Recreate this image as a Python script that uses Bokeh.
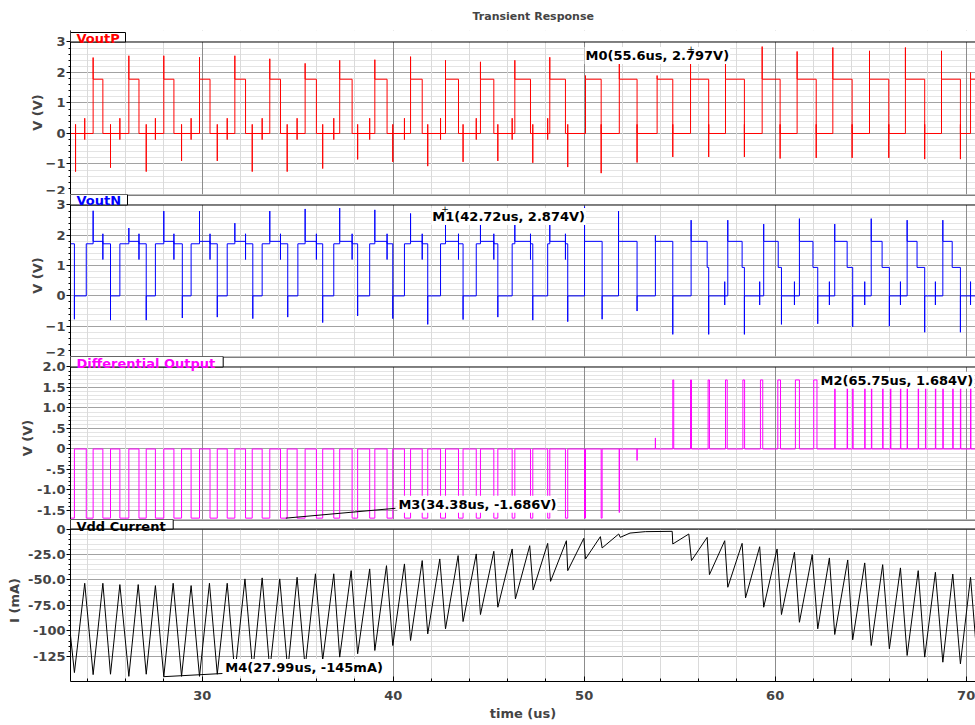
import numpy as np
from bokeh.plotting import figure
from bokeh.layouts import column
from bokeh.models import Range1d, FixedTicker, Grid, Label, BoxAnnotation, Span
from bokeh.embed import file_html
from bokeh.resources import INLINE

# ---------------- data ----------------
X0, X1 = 23.105, 70.49
x_major = [30, 40, 50, 60, 70]
x_minor = [24, 26, 28, 32, 34, 36, 38, 42, 44, 46, 48, 52, 54, 56, 58, 62, 64, 66, 68]

# VoutP: rising / falling edge times, spike peaks
p_rise = [24.29, 26.16, 27.99, 29.86, 31.71, 33.54, 35.39, 37.20, 39.04, 40.91, 42.74, 44.57, 46.37,
          48.20, 50.07, 51.84, 53.82, 55.57, 57.40, 59.32, 61.15, 63.02, 64.94, 66.82, 68.71, 70.23]
p_fall = [24.80, 26.69, 28.52, 30.41, 32.27, 34.10, 35.98, 37.85, 39.68, 41.52, 43.42, 45.27, 47.19,
          49.02, 50.89, 52.77, 54.64, 56.52, 58.39, 60.26, 62.15, 64.03, 65.95, 67.83, 69.70]
p_spk = [2.49, 2.55, 2.55, 2.50, 2.55, 2.45, 2.30, 2.40, 2.42, 2.52, 2.40, 2.35, 2.40,
         2.50, 1.90, 2.42, 1.90, 2.797, 2.36, 2.85, 2.69, 2.82, 2.71, 2.82, 2.71, 2.00]
p_neg_t = [23.37, 25.20, 27.07, 28.92, 30.79, 32.62, 34.45, 36.31, 38.14, 39.98, 41.81, 43.66, 45.48,
           47.31, 49.14, 50.89, 52.77, 54.64, 56.52, 58.39, 60.26, 62.15, 64.03, 65.95, 67.83, 69.70]
p_neg_v = [-1.25, -1.12, -1.25, -0.90, -0.90, -1.25, -1.25, -1.15, -0.85, -0.93, -1.07, -0.93, -0.90,
           -0.96, -1.10, -1.30, -0.95, -0.77, -0.77, -0.77, -0.82, -0.80, -0.80, -0.80, -0.84, -0.84]
p_pre_t = [23.85, 25.69, 27.55, 29.42, 31.31, 33.14, 34.97, 36.89, 38.77, 40.59, 42.48, 44.35, 46.23, 48.09]
P_HI = 1.78
P_NEG_UP = 0.30
P_PRE = [0.50, -0.20]

# VoutN: low intervals, spikes
n_lo_start = [23.31, 25.20, 27.07, 28.96, 30.79, 32.65, 34.48, 36.31, 38.14, 39.98, 41.81, 43.66, 45.48,
              47.31, 49.14, 50.94, 52.77, 54.64, 56.52, 58.39, 60.33, 62.23, 64.06, 65.98, 67.83, 69.70]
n_lo_end = [23.93, 25.69, 27.55, 29.42, 31.31, 33.14, 35.01, 36.89, 38.77, 40.59, 42.48, 44.35, 46.23,
            48.09, 50.02, 51.80, 53.73, 55.60, 57.52, 59.40, 61.27, 63.12, 65.03, 66.91, 68.78]
n_neg = [-0.77, -0.80, -0.80, -0.73, -0.70, -0.75, -0.70, -0.88, -0.66, -0.75, -0.94, -0.78, -0.70,
         -0.80, -0.85, -0.77, -0.50, -1.27, -1.27, -1.27, -0.94, -0.92, -1.02, -1.00, -1.20, -1.20]
n_spk_t = [24.29, 26.16, 27.99, 29.86, 31.71, 33.54, 35.39, 37.20, 39.04, 40.91, 42.74, 44.57, 46.37,
           48.20, 50.02, 51.80, 53.73, 55.60, 57.52, 59.40, 61.27, 63.12, 65.03, 66.91, 68.78]
n_spk_v = [2.81, 2.24, 2.80, 2.80, 2.40, 2.80, 2.87, 2.90, 2.84, 2.72, 2.874, 2.40, 2.40,
           2.72, 2.95, 2.80, 2.00, 2.50, 2.50, 2.37, 2.55, 2.37, 2.55, 2.50, 2.50]
n_step_t = [56.44, 58.27, 60.16, 61.98, 63.77, 65.60, 67.43, 69.27]
n_small_t = [57.36, 59.19, 61.01, 62.84, 64.69, 66.56, 68.39, 70.23]
N_HI, N_PL, N_STEP = 1.72, 1.80, 0.94
N_MID = [2.05, 1.20]
N_SMALL = [0.47, -0.30]
T_FLIP = 49.6

# Differential output pulses
d_neg_t0 = [23.93, 24.80, 25.69, 26.69, 27.55, 28.52, 29.42, 30.41, 31.31, 32.27, 33.14, 34.10, 34.97,
            35.98, 36.89, 37.85, 38.77, 39.68, 40.59, 41.52, 42.48, 43.42, 44.35, 45.27, 46.23, 47.19,
            48.09, 49.02, 50.02, 50.89]
d_neg_t1 = [23.31, 24.29, 25.20, 26.16, 27.07, 27.99, 28.92, 29.86, 30.79, 31.71, 32.62, 33.54, 34.45,
            35.39, 36.31, 37.20, 38.14, 39.04, 39.98, 40.91, 41.81, 42.74, 43.66, 44.57, 45.48, 46.37,
            47.31, 48.20, 49.14, 50.07, 50.94]
d_pos_t0 = [54.64, 55.57, 56.49, 57.40, 58.31, 59.23, 60.14, 61.06, 62.02, 63.12, 63.77, 64.06, 64.69,
            65.04, 65.63, 66.04, 66.56, 66.91, 67.49, 67.87, 68.39, 68.78, 69.30, 69.70, 70.23]
d_pos_t1 = [54.69, 55.62, 56.56, 57.49, 58.40, 59.35, 60.28, 61.27, 62.19, 63.14, 63.79, 64.08, 64.71,
            65.06, 65.65, 66.06, 66.58, 66.93, 67.51, 67.89, 68.41, 68.80, 69.32, 69.72, 70.25]
d_spk_t = [51.84, 52.77, 53.73]
d_spk_v = [-1.55, -0.28, 0.27]
D_NEG, D_POS = -1.686, 1.684

# Vdd current (mA) vertices
i_t = [23.105, 23.31, 23.85, 24.29, 24.80, 25.20, 25.69, 26.16, 26.65, 27.07, 27.55, 27.99, 28.48, 28.92,
       29.42, 29.86, 30.38, 30.79, 31.31, 31.71, 32.24, 32.65, 33.14, 33.54, 34.06, 34.48, 34.97, 35.39,
       35.93, 36.31, 36.89, 37.20, 37.80, 38.14, 38.77, 39.04, 39.65, 39.98, 40.59, 40.91, 41.52, 41.81,
       42.44, 42.74, 43.40, 43.66, 44.35, 44.57, 45.27, 45.48, 46.23, 46.40, 47.15, 47.33, 48.09, 48.24,
       49.07, 49.14, 49.98, 50.07, 50.85, 50.94, 51.81, 51.89, 52.40, 53.20, 54.61, 54.64, 55.48, 55.62,
       56.44, 56.56, 57.36, 57.52, 58.27, 58.45, 59.19, 59.40, 60.10, 60.33, 61.01, 61.27, 61.94, 62.23,
       62.84, 63.12, 63.80, 64.06, 64.69, 65.03, 65.63, 65.98, 66.56, 66.91, 67.49, 67.83, 68.39, 68.78,
       69.30, 69.70, 70.23, 70.49]
i_v = [-104.6, -141, -53.3, -143, -53.3, -142.6, -54.6, -144.7, -54.6, -142.6, -55.6, -145, -53.3, -144.7,
       -55.6, -144.7, -53.3, -142.6, -53.3, -142.6, -49, -139.5, -48, -138.8, -49, -138.8, -47.4, -136,
       -44, -128.7, -44, -125.8, -40.9, -122.5, -39.2, -119.3, -36, -114.4, -34.3, -109.5, -31, -103,
       -29.4, -98, -26.1, -90.9, -24.5, -84, -21.9, -76.8, -19.6, -68.6, -16.4, -59.8, -14.1, -51.4,
       -11.5, -40.9, -9.2, -29.4, -7.5, -18.6, -4.9, -8.2, -4.0, -2.6, -2.3, -14.7, -4.9, -31,
       -8.2, -44.8, -11.5, -57.2, -14.1, -67.6, -17.4, -76.8, -19.6, -84, -22.9, -91.6, -25.2, -98,
       -28.4, -103.6, -30.4, -108.8, -33.3, -114.4, -35, -117.6, -38.2, -124.2, -40.9, -125.8, -42.5, -130.8,
       -44.2, -132.4, -47.4, -107.8]

# markers: (panel, t, value, label)
markers = [
    (0, 55.6, 2.797, "M0(55.6us, 2.797V)"),
    (1, 42.72, 2.874, "M1(42.72us, 2.874V)"),
    (2, 65.75, 1.684, "M2(65.75us, 1.684V)"),
    (2, 34.38, -1.686, "M3(34.38us, -1.686V)"),
    (3, 27.99, -145.0, "M4(27.99us, -145mA)"),
]

# ---------------- helpers ----------------
def trace(level0, edges, spikes):
    ev = [(t, 0, v) for t, v in edges] + [(t, 1, v) for t, v in spikes]
    ev.sort(key=lambda e: (e[0], e[1]))
    xs, ys = [X0], [level0]
    lvl = level0
    for t, kind, v in ev:
        if t <= X0 or t >= X1:
            continue
        xs.append(t); ys.append(lvl)
        if kind == 0:
            lvl = v
        else:
            for vv in v:
                xs.append(t); ys.append(vv)
        xs.append(t); ys.append(lvl)
    xs.append(X1); ys.append(lvl)
    return xs, ys

vp_edges = [(t, P_HI) for t in p_rise] + [(t, 0.0) for t in p_fall]
vp_spikes = ([(t, [s]) for t, s in zip(p_rise, p_spk)]
             + [(t, [P_NEG_UP, v]) for t, v in zip(p_neg_t, p_neg_v)]
             + [(t, P_PRE) for t in p_pre_t])
vp_x, vp_y = trace(0.0, vp_edges, vp_spikes)

vn_edges = [(t, 0.0) for t in n_lo_start]
vn_edges += [(t, N_HI if t < T_FLIP else N_PL) for t in n_lo_end]
vn_edges += [(t, N_PL) for t in p_rise if t < T_FLIP]
vn_edges += [(t, N_HI) for t in p_fall if t < T_FLIP]
vn_edges += [(t, N_STEP) for t in n_step_t]
vn_spikes = ([(t, [s]) for t, s in zip(n_spk_t, n_spk_v)]
             + [(t, [v]) for t, v in zip(n_lo_start, n_neg)]
             + [(t, N_MID) for t in p_fall if t < T_FLIP]
             + [(t, N_SMALL) for t in n_small_t])
vn_x, vn_y = trace(N_HI, vn_edges, vn_spikes)

d_edges = ([(t, D_NEG) for t in d_neg_t0] + [(t, 0.0) for t in d_neg_t1]
           + [(t, D_POS) for t in d_pos_t0] + [(t, 0.0) for t in d_pos_t1])
d_spikes = [(t, [v]) for t, v in zip(d_spk_t, d_spk_v)]
d_x, d_y = trace(D_NEG, d_edges, d_spikes)

# ---------------- figures ----------------
FONT = "DejaVu Sans"
W = 975
PX_PER_US = 905 / (X1 - X0)


def x_at(px):
    return X0 + (px - 70) / PX_PER_US


def make_panel(h, top, bottom, y0, y1, ppu, yticks, ystep_minor, ylabel, tab_text, tab_color,
               panel_top, tab_right_px, tab_top=None, overrides=None, xaxis=False,
               label_standoff=4, strip_line=True, tab_dy=4):
    p = figure(width=W, height=h, output_backend="svg", toolbar_location=None,
               x_range=Range1d(X0, X1), y_range=Range1d(y0, y1),
               x_axis_location="below" if xaxis else None,
               min_border_left=70, min_border_right=0,
               min_border_top=top, min_border_bottom=bottom)
    p.background_fill_color = "white"
    p.border_fill_color = "white"
    p.outline_line_color = None
    for g in list(p.center):
        if isinstance(g, Grid):
            g.visible = False

    lo, hi = yticks[0], yticks[-1]
    ymin = []
    n = int(round((hi - lo) / ystep_minor))
    for k in range(n + 1):
        v = round(lo + k * ystep_minor, 6)
        if all(abs(v - t) > 1e-9 for t in yticks):
            ymin.append(v)
    yt = FixedTicker(ticks=yticks, minor_ticks=ymin)
    xt = FixedTicker(ticks=x_major, minor_ticks=x_minor)

    gx = Grid(dimension=0, ticker=xt, grid_line_color="#8c8c8c", grid_line_width=1,
              minor_grid_line_color="#dadada", minor_grid_line_width=1)
    gy = Grid(dimension=1, ticker=yt, grid_line_color="#a2a2a2", grid_line_width=1,
              minor_grid_line_color="#e4e4e4", minor_grid_line_width=1)
    p.add_layout(gy)
    p.add_layout(gx)

    ya = p.yaxis[0]
    ya.ticker = yt
    ya.axis_label = ylabel
    ya.axis_label_text_font = FONT
    ya.axis_label_text_font_style = "bold"
    ya.axis_label_text_font_size = "13px"
    ya.axis_label_standoff = label_standoff
    ya.major_label_text_font = FONT
    ya.major_label_text_font_style = "bold"
    ya.major_label_text_font_size = "13px"
    ya.major_label_standoff = 1
    ya.major_tick_out = 4
    ya.major_tick_in = 0
    ya.minor_tick_out = 2
    ya.minor_tick_in = 0
    ya.axis_line_color = "black"
    if overrides:
        ya.major_label_overrides = overrides

    if xaxis:
        xa = p.xaxis[0]
        xa.ticker = xt
        xa.axis_label = "time (us)"
        xa.axis_label_text_font = FONT
        xa.axis_label_text_font_style = "bold"
        xa.axis_label_text_font_size = "13px"
        xa.axis_label_standoff = 3
        xa.major_label_text_font = FONT
        xa.major_label_text_font_style = "bold"
        xa.major_label_text_font_size = "13px"
        xa.major_label_standoff = 9
        xa.major_tick_out = 0
        xa.major_tick_in = 5
        xa.minor_tick_out = 0
        xa.minor_tick_in = 3
        xa.axis_line_color = "black"

    # white strip above the panel (tab area), the panel's top line, the line above the strip
    p.add_layout(BoxAnnotation(left=X0, right=X1, bottom=panel_top, top=y1,
                               fill_color="white", fill_alpha=1.0, line_color=None))
    p.add_layout(Span(location=panel_top, dimension="width", line_color="black", line_width=1))
    if strip_line:
        p.add_layout(Span(location=y1 - 0.5 / ppu, dimension="width", line_color="black", line_width=1))
    p.add_layout(BoxAnnotation(left=X0, right=x_at(tab_right_px), bottom=panel_top,
                               top=tab_top if tab_top is not None else y1,
                               fill_color="white", fill_alpha=1.0, line_color="black",
                               line_alpha=1.0, line_width=1))
    p.add_layout(Label(x=X0, y=panel_top, x_offset=6, y_offset=tab_dy, text=tab_text, text_color=tab_color,
                       text_font=FONT, text_font_style="bold", text_font_size="13px",
                       text_baseline="middle", text_align="left"))
    return p


# panel 1: frame 30..194 ; 3 V at 41.5, -2 V at 194
p1 = make_panel(194, 30, 0, -2.0, 3.377, 30.5, [-2, -1, 0, 1, 2, 3], 0.2, "V (V)", "VoutP", "#ff0000",
                panel_top=3.0, tab_right_px=125, tab_top=3.311, label_standoff=-2, strip_line=False,
                tab_dy=3)
# panel 2: frame 194..356 ; 3 V at 204.5
p2 = make_panel(162, 0, 0, -2.0, 3.3465, 30.3, [-2, -1, 0, 1, 2, 3], 0.2, "V (V)", "VoutN", "#0000ff",
                panel_top=3.0, tab_right_px=127, label_standoff=-2, tab_dy=4)
# panel 3: frame 356..519 ; 2.0 V at 366.5
p3 = make_panel(163, 0, 0, -1.7195, 2.256, 41.0, [-1.5, -1.0, -0.5, 0.0, 0.5, 1.0, 1.5, 2.0], 0.1, "V (V)",
                "Differential Output", "#ff00ff", panel_top=2.0, tab_right_px=222.7, label_standoff=-1,
                overrides={-1.5: "-1.5", -1.0: "-1.0", -0.5: "-.5", 0.0: "0", 0.5: ".5",
                           1.0: "1.0", 1.5: "1.5", 2.0: "2.0"}, tab_dy=3)
# panel 4: frame 519..681 ; 0 mA at 528.5
p4 = make_panel(206, 0, 44, -149.75, 9.33, 1.0184, [-125, -100, -75, -50, -25, 0], 5, "I (mA)",
                "Vdd Current", "black", panel_top=0.0, tab_right_px=172.7, label_standoff=3,
                overrides={-125: "-125", -100: "-100", -75: "-75.0", -50: "-50.0", -25: "-25.0", 0: "0"},
                xaxis=True, tab_dy=3)

p1.title.text = "Transient Response"
p1.title.align = "left"
p1.title.text_font = FONT
p1.title.text_font_style = "bold"
p1.title.text_font_size = "11px"
p1.title.standoff = 15
p1.title.offset = 402

p1.line(vp_x, vp_y, line_color="#ff0000", line_width=1)
p2.line(vn_x, vn_y, line_color="#0000ff", line_width=1)
p3.line(d_x, d_y, line_color="#ff00ff", line_width=1)
p4.line(i_t, i_v, line_color="black", line_width=1)

panels = [p1, p2, p3, p4]
label_pos = [(50.02, 2.56), (42.0, 2.62), (62.32, 1.675), (40.22, -1.35), (31.16, -136.0)]
leader_end = {3: (40.12, -1.446), 4: (31.06, -141.9)}

for idx, (pi, t, v, txt) in enumerate(markers):
    p = panels[pi]
    lx, ly = label_pos[idx]
    if idx in leader_end:
        ex, ey = leader_end[idx]
        p.line([t, ex], [v, ey], line_color="black", line_width=1)
    p.add_layout(Label(x=lx, y=ly, text=txt, text_font=FONT, text_font_style="bold",
                       text_font_size="13px", text_align="left", text_baseline="middle",
                       text_color="black", background_fill_color="white", padding=1))
    if idx <= 1:
        p.add_layout(Label(x=t, y=v, text="+", text_font=FONT, text_font_size="9px",
                           text_align="center", text_baseline="middle", text_color="black"))

layout = column(p1, p2, p3, p4, spacing=0)
open("out.html", "w").write(file_html(layout, INLINE))
